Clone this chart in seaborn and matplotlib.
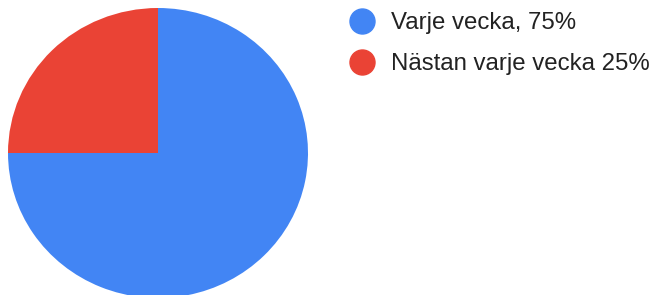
import matplotlib
matplotlib.use("Agg")
import matplotlib.pyplot as plt
import seaborn as sns
from matplotlib.lines import Line2D

labels = ["Varje vecka, 75%", "Nästan varje vecka 25%"]
values = [75, 25]
colors = ["#4285F4", "#EA4335"]

sns.set_theme(style="white")
plt.rcParams["font.family"] = ["Liberation Sans", "DejaVu Sans"]

fig = plt.figure(figsize=(6.56, 2.95), dpi=100)
ax = fig.add_axes([8 / 656, -3 / 295, 300 / 656, 290 / 295])
ax.pie(values, colors=sns.color_palette(colors), startangle=90, counterclock=False,
       radius=1, wedgeprops=dict(linewidth=0))
ax.set_xlim(-1, 1)
ax.set_ylim(-1, 1)
ax.set_aspect("auto")
ax.axis("off")

handles = [Line2D([], [], marker="o", linestyle="", markersize=18,
                  markerfacecolor=c, markeredgecolor=c) for c in colors]
fig.legend(handles, labels, loc="upper left", bbox_to_anchor=(338 / 656, 1 - 0 / 295),
           frameon=False, fontsize=17.3, labelcolor="#222222",
           handletextpad=0.72, labelspacing=0.8, borderpad=0, handlelength=1.0)

fig.savefig("out.png", dpi=100)
